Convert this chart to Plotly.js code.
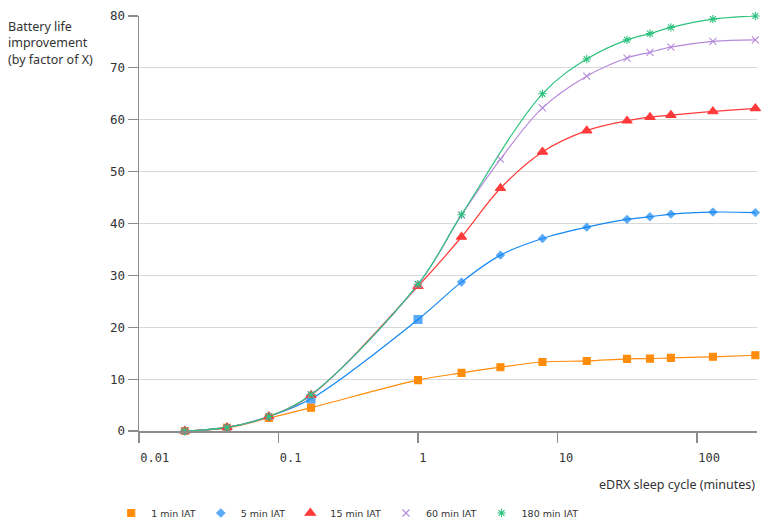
<!DOCTYPE html>
<html>
<head>
<meta charset="utf-8">
<script src="https://cdn.plot.ly/plotly-3.0.1.min.js"></script>
<style>html,body{margin:0;padding:0;background:#fff;}#chart{width:767px;height:524px;}</style>
</head>
<body>
<div id="chart"></div>
<script>
// eDRX sleep cycle (minutes)
var sleepCycle = [0.0213, 0.0427, 0.0853, 0.171, 1.0, 2.05, 3.9, 7.8, 16.2, 31.5, 46, 65, 130, 262];
var iat1   = [0, 0.6, 2.5, 4.5, 9.8, 11.2, 12.3, 13.3, 13.5, 13.9, 13.95, 14.1, 14.3, 14.6];
var iat5   = [0, 0.7, 2.8, 6.2, 21.5, 28.7, 33.9, 37.1, 39.3, 40.8, 41.3, 41.8, 42.2, 42.1];
var iat15  = [0, 0.7, 2.8, 6.9, 27.9, 37.4, 46.8, 53.8, 57.9, 59.8, 60.5, 60.9, 61.6, 62.2];
var iat60  = [0, 0.7, 2.8, 7.0, 28.2, 41.6, 52.4, 62.3, 68.4, 71.9, 73.0, 74.0, 75.1, 75.4];
var iat180 = [0, 0.7, 2.8, 7.0, 28.3, 41.7, null, 65.0, 71.7, 75.4, 76.6, 77.8, 79.4, 80.0];
var seriesNames = ['1 min IAT', '5 min IAT', '15 min IAT', '60 min IAT', '180 min IAT'];
var xTickVals = [0.01, 0.1, 1, 10, 100];
var xTickText = ['0.01', '0.1', '1', '10', '100'];
var yTickVals = [0, 10, 20, 30, 40, 50, 60, 70, 80];

var seriesData = [iat1, iat5, iat15, iat60, iat180];
var colors = ['#ff8c0a', '#1487f5', '#ff3a3a', '#b58ada', '#2ec27e'];
var symbols = [
  'square',
  ['diamond','diamond','diamond','square','square','diamond','diamond','diamond','diamond','diamond','diamond','diamond','diamond','diamond'],
  'triangle-up',
  'x-thin-open',
  'asterisk-open'
];
var sizes = [
  7,
  [6,6,6,8,8,6,6,6,6,6,6,6,6,6],
  9,
  7,
  7
];

var traces = [];
for (var i = 0; i < seriesData.length; i++) {
  traces.push({
    x: sleepCycle, y: seriesData[i], type: 'scatter', mode: 'lines',
    connectgaps: true,
    line: {color: colors[i], width: 1.2, shape: 'spline', smoothing: 1},
    showlegend: false, hoverinfo: 'skip', cliponaxis: false
  });
}
for (var j = 0; j < seriesData.length; j++) {
  traces.push({
    x: sleepCycle, y: seriesData[j], type: 'scatter', mode: 'markers',
    name: seriesNames[j],
    marker: {color: colors[j], symbol: symbols[j], size: sizes[j],
             line: {color: colors[j], width: 1.1}},
    cliponaxis: false
  });
}

var layout = {
  width: 767, height: 524,
  margin: {l: 139, r: 10, t: 16, b: 93, autoexpand: false},
  paper_bgcolor: '#ffffff', plot_bgcolor: '#ffffff',
  font: {family: 'Noto Sans, sans-serif', color: '#333333'},
  showlegend: true,
  legend: {
    orientation: 'h', xref: 'container', yref: 'container',
    x: 0.145, xanchor: 'left', y: 0.021, yanchor: 'middle',
    font: {family: 'DejaVu Sans, sans-serif', size: 9.5, color: '#333333'},
    itemwidth: 30, traceorder: 'normal'
  },
  xaxis: {
    type: 'log', range: [-2, 2.43],
    tickvals: xTickVals, ticktext: xTickText,
    ticks: 'outside', ticklen: 10, tickwidth: 1.2, tickcolor: '#8c8c8c',
    ticklabelposition: 'outside right', ticklabelstandoff: 15,
    tickfont: {family: 'DejaVu Sans Mono, monospace', size: 12, color: '#333333'},
    showgrid: false, zeroline: false,
    showline: true, linecolor: '#8c8c8c', linewidth: 1.5
  },
  yaxis: {
    range: [0, 80], tickvals: yTickVals,
    ticks: 'outside', ticklen: 10, tickwidth: 1.2, tickcolor: '#8c8c8c',
    tickfont: {family: 'DejaVu Sans Mono, monospace', size: 12.5, color: '#333333'},
    showgrid: true, gridcolor: '#d9d9d9', gridwidth: 1,
    zeroline: false, showline: true, linecolor: '#8c8c8c', linewidth: 1.5
  },
  annotations: [
    {
      xref: 'paper', yref: 'paper', x: -0.215, y: 1.0, xanchor: 'left', yanchor: 'top',
      text: 'Battery life<br>improvement<br>(by factor of X)', align: 'left', showarrow: false,
      font: {family: 'Noto Sans, sans-serif', size: 12.5, color: '#333333'}
    },
    {
      xref: 'paper', yref: 'paper', x: 1.0, y: -0.13, xanchor: 'right', yanchor: 'middle',
      text: 'eDRX sleep cycle (minutes)', showarrow: false,
      font: {family: 'Noto Sans, sans-serif', size: 12.5, color: '#333333'}
    }
  ]
};

Plotly.newPlot('chart', traces, layout, {displayModeBar: false, staticPlot: true});
</script>
</body>
</html>
